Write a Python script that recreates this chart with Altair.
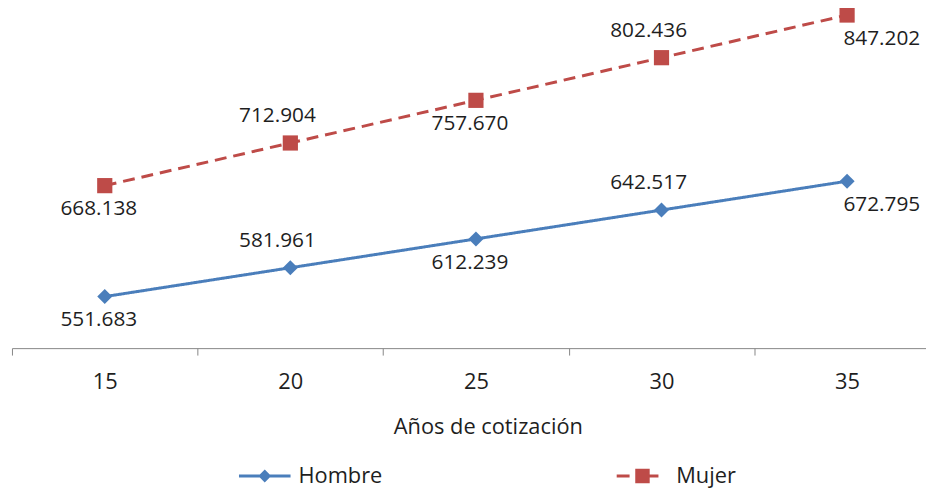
import altair as alt
import pandas as pd

years = ["15", "20", "25", "30", "35"]
hombre = [551.683, 581.961, 612.239, 642.517, 672.795]
mujer = [668.138, 712.904, 757.670, 802.436, 847.202]
series = ["Hombre", "Mujer"]

rows = []
for name, vals in zip(series, [hombre, mujer]):
    for i, (yr, v) in enumerate(zip(years, vals)):
        rows.append({"serie": name, "anio": yr, "valor": v, "idx": i})
df = pd.DataFrame(rows)

BLUE = "#4A7EBB"
RED = "#BE4B48"
TXT = "#1e1e1e"
FONT = "Open Sans"

# legend symbols: line + marker drawn as filled shapes (unit coords)
sym_h = "M-1,-0.058H1V0.058H-1Z M0,-0.25L0.25,0L0,0.25L-0.25,0Z"
sym_m = "M-1,-0.058H-0.5V0.058H-1Z M0.28,-0.058H0.62V0.058H0.28Z M-0.28,-0.28H0.28V0.28H-0.28Z"

x = alt.X(
    "anio:O",
    sort=years,
    scale=alt.Scale(type="band", range=[0, 936], paddingInner=0, paddingOuter=0),
    axis=alt.Axis(
        title="Años de cotización",
        labelAngle=0,
        tickBand="extent",
        tickSize=7,
        tickColor="#868686",
        domainColor="#868686",
        labelFont=FONT,
        labelFontSize=22,
        labelColor=TXT,
        labelPadding=17,
        titleFont=FONT,
        titleFontSize=22,
        titleFontWeight="normal",
        titleColor=TXT,
        titlePadding=24,
        titleX=480,
    ),
)
y = alt.Y("valor:Q", scale=alt.Scale(domain=[497.6, 852.4], zero=False), axis=None)
cscale = alt.Scale(domain=series, range=[BLUE, RED])
color = alt.Color("serie:N", scale=cscale, legend=None)

base = alt.Chart(df)

lines = base.mark_line(strokeWidth=3).encode(
    x=x, y=y, color=color,
    strokeDash=alt.StrokeDash("serie:N", scale=alt.Scale(domain=series, range=[[1, 0], [12, 7]]), legend=None),
)

pts_h = base.transform_filter("datum.serie == 'Hombre'").mark_point(
    filled=True, opacity=1, shape="diamond", size=230
).encode(x=x, y=y, color=color)
pts_m = base.transform_filter("datum.serie == 'Mujer'").mark_point(
    filled=True, opacity=1, shape="square", size=235
).encode(x=x, y=y, color=color)

def make_leg():
    return alt.Legend(
        orient="none", legendX=229, legendY=444, direction="horizontal",
        symbolSize=2704, symbolStrokeWidth=0, symbolOpacity=1,
        labelFont=FONT, labelFontSize=22, labelColor=TXT, labelOffset=8,
        columnPadding=236, padding=0, title=None,
    )

legend_layer = base.mark_point(filled=True, opacity=0).encode(
    x=x, y=y,
    color=alt.Color("serie:N", scale=cscale, title=None, legend=make_leg()),
    shape=alt.Shape("serie:N", scale=alt.Scale(domain=series, range=[sym_h, sym_m]), title=None, legend=make_leg()),
)

def labels(flt, dx, dy):
    return base.transform_filter(flt).mark_text(
        font=FONT, fontSize=21, color=TXT, dx=dx, dy=dy, baseline="middle", align="center"
    ).encode(x=x, y=y, text=alt.Text("valor:Q", format=".3f"))

lab_below = labels("datum.idx % 2 == 0 && datum.idx < 4", -6, 24)
lab_above = labels("datum.idx % 2 == 1", -13, -27)
lab_last = labels("datum.idx == 4", 35, 24)

chart = alt.layer(lines, pts_h, pts_m, legend_layer, lab_below, lab_above, lab_last).resolve_scale(
    color="independent", shape="independent"
).properties(
    width=922,
    height=341,
    padding={"left": 4, "top": 0, "right": 0, "bottom": 140},
    autosize=alt.AutoSizeParams(type="none"),
).configure_view(stroke=None)

chart.save("out.html", embed_options={"renderer": "svg", "actions": False})
